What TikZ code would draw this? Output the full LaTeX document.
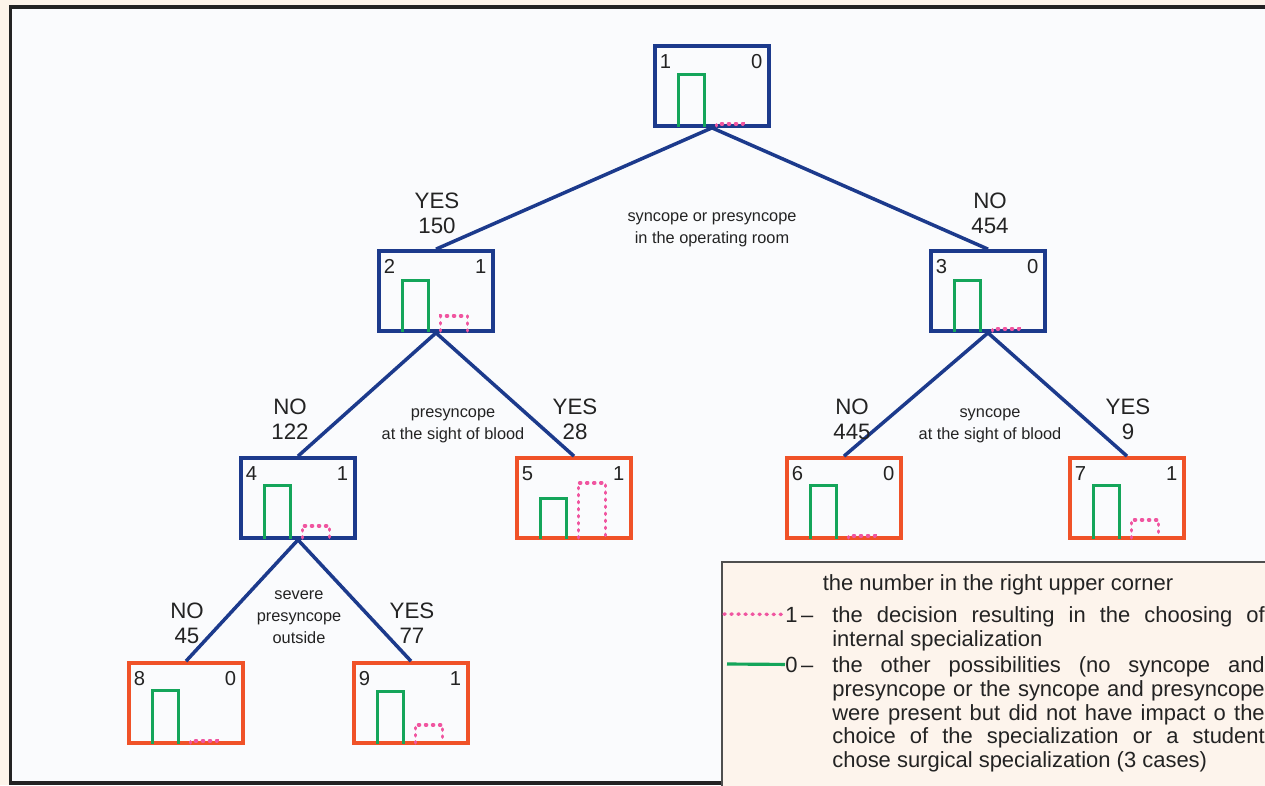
\documentclass[tikz,border=0pt]{standalone}
\usepackage{fontspec}
\setmainfont{Liberation Sans}
\usetikzlibrary{calc,positioning}
\definecolor{treeblue}{RGB}{28,58,140}
\definecolor{leafred}{RGB}{240,82,40}
\definecolor{bargreen}{RGB}{20,165,90}
\definecolor{barpink}{RGB}{240,85,160}
\definecolor{pagebg}{RGB}{253,244,234}
\definecolor{panelbg}{RGB}{250,251,253}
\definecolor{legbg}{RGB}{253,244,236}
\definecolor{inkgray}{RGB}{35,35,35}
\tikzset{
  box/.style={draw, line width=2.1pt, minimum width=2.27cm, minimum height=1.6cm, inner sep=0pt},
  boxnum/.style={font=\fontsize{11.5}{13}\selectfont, text=inkgray, inner sep=0pt},
  branch/.style={draw=treeblue, line width=2pt},
  count/.style={font=\fontsize{12.7}{14.2}\selectfont, align=center, text=inkgray, inner sep=0pt},
  cond/.style={font=\fontsize{9.3}{12.5}\selectfont, align=center, text=inkgray, inner sep=0pt},
  greenbar/.style={draw=bargreen, line width=1.6pt},
  pinkbar/.style={draw=barpink, line width=2pt, line cap=round, dash pattern=on 0.6pt off 3.4pt},
  legtext/.style={font=\fontsize{12.5}{13.6}\selectfont, text=inkgray, inner sep=0pt},
}
\begin{document}
\begin{tikzpicture}[x=0.02cm,y=-0.02cm]
\useasboundingbox (0,0) rectangle (1265,785);
\clip (0,0) rectangle (1265,785);
\fill[pagebg] (0,0) rectangle (1265,785);
\draw[line width=2.2pt, draw=inkgray, fill=panelbg] (10.5,7) rectangle (1290,783);
% tree nodes with their bars
\foreach \n/\cx/\cy/\col/\lnum/\rnum/\gh/\ph in {
  1/712/86/treeblue/1/0/52/2, 2/436/291/treeblue/2/1/51/15, 3/988/291/treeblue/3/0/51/2,
  4/298/498/treeblue/4/1/53/12, 5/574/498/leafred/5/1/40/55, 6/844/498/leafred/6/0/53/2,
  7/1127/498/leafred/7/1/53/18, 8/186/703/leafred/8/0/53/2, 9/411/703/leafred/9/1/52/18}{
  \node[box, draw=\col] (n\n) at (\cx,\cy) {};
  \node[boxnum, anchor=north west] at ($(n\n.north west)+(6,10)$) {\lnum};
  \node[boxnum, anchor=north east] at ($(n\n.north east)+(-8,10)$) {\rnum};
  \draw[greenbar] ($(n\n.south west)+(25,-1)$) -- ++(0,-\gh) -- ++(26,0) -- ++(0,\gh);
  \draw[pinkbar] ($(n\n.south west)+(63,-2)$) -- ++(0,-\ph) -- ++(27,0) -- ++(0,\ph);
}
\draw[branch] (n1.south) -- (n2.north);
\draw[branch] (n1.south) -- (n3.north);
\draw[branch] (n2.south) -- (n4.north);
\draw[branch] (n2.south) -- (n5.north);
\draw[branch] (n3.south) -- (n6.north);
\draw[branch] (n3.south) -- (n7.north);
\draw[branch] (n4.south) -- (n8.north);
\draw[branch] (n4.south) -- (n9.north);
% answers and counts
\node[count] (c2) at (437,213) {YES\\150};
\node[count] (c3) at (990,213) {NO\\454};
\node[count] (c4) at (290,419) {NO\\122};
\node[count] (c5) at (575,419) {YES\\28};
\node[count] (c6) at (852,419) {NO\\445};
\node[count] (c7) at (1128,419) {YES\\9};
\node[count] (c8) at (187,623) {NO\\45};
\node[count] (c9) at (412,623) {YES\\77};
% split questions
\node[cond] (q1) at (712,230) {syncope or presyncope\\in the operating room};
\node[cond] (q2) at (453,426) {presyncope\\at the sight of blood};
\node[cond] (q3) at (990,426) {syncope\\at the sight of blood};
\node[cond] (q4) at (299,617) {severe\\presyncope\\outside};
% legend
\draw[draw=inkgray!80, line width=1.2pt, fill=legbg] (722,562) rectangle (1300,800);
\node[legtext] (ltitle) at (998,585) {the number in the right upper corner};
\node[legtext, anchor=base west] (k1) at (785,622) {1\,–};
\coordinate (k1end) at (724,614);
\draw[pinkbar] (k1end) -- (k1.west);
\node[legtext, text width=8.65cm, align=justify, anchor=north west] (t1) at (832,606)
  {the decision resulting in the choosing of\linebreak internal specialization};
\node[legtext, anchor=base west] (k0) at (785,672) {0\,–};
\coordinate (k0end) at (727,664);
\draw[greenbar, line width=1.8pt] (k0end) -- (k0.west);
\node[legtext, text width=8.65cm, align=justify, anchor=north west] (t0) at (832,656)
  {the other possibilities (no syncope and\linebreak presyncope or the syncope and presyncope\linebreak
   were present but did not have impact o the\linebreak choice of the specialization or a student\linebreak
   chose surgical specialization (3 cases)};
\end{tikzpicture}
\end{document}
